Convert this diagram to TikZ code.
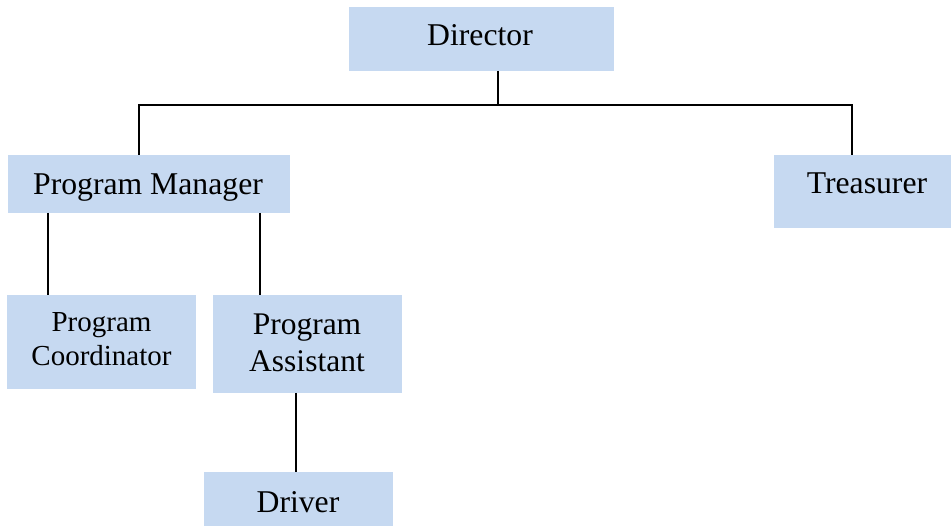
\documentclass[tikz,border=0pt]{standalone}
\usepackage{fontspec}
\setmainfont{Liberation Serif}
\definecolor{boxblue}{HTML}{C6D9F1}
\begin{document}
\begin{tikzpicture}[x=1pt,y=-1pt,
  box/.style={fill=boxblue, draw=none, inner sep=0pt, outer sep=0pt},
  lbl/.style={inner sep=0pt, outer sep=0pt, font=\fontsize{31.7}{36}\selectfont},
  conn/.style={line width=1.3pt, black}]
\useasboundingbox (0,0) rectangle (951,526);
% boxes
\node[box, minimum width=265pt, minimum height=64pt] (dir) at (481.5,39) {};
\node[box, minimum width=282pt, minimum height=58pt] (pm) at (149,184) {};
\node[box, minimum width=177pt, minimum height=73pt] (tr) at (862.5,191.5) {};
\node[box, minimum width=189pt, minimum height=94pt] (pc) at (101.5,342) {};
\node[box, minimum width=189pt, minimum height=98pt] (pa) at (307.5,344) {};
\node[box, minimum width=189pt, minimum height=54pt] (dr) at (298.5,499) {};
% texts
\node[lbl, anchor=base] (dirt) at (480,46) {Director};
\node[lbl, anchor=base] (pmt) at (148,195) {Program Manager};
\node[lbl, anchor=base] (trt) at (867,194) {Treasurer};
\node[lbl, align=center, font=\fontsize{29}{34}\selectfont] (pct) at (101.5,339.5) {Program\\Coordinator};
\node[lbl, align=center, font=\fontsize{31.5}{37}\selectfont] (pat) at (307,343) {Program\\Assistant};
\node[lbl, anchor=base] (drt) at (298,512) {Driver};
% connectors
\coordinate (j) at (498,105);
\coordinate (jl) at (139,105);
\coordinate (jr) at (852,105);
\draw[conn] (dir.south -| j) -- (j);
\draw[conn] (pm.north -| jl) -- (jl) -- (jr) -- (tr.north -| jr);
\draw[conn] ([xshift=40pt]pm.south west) -- ([xshift=40pt]pm.south west |- pc.north);
\draw[conn] ([xshift=252pt]pm.south west) -- ([xshift=252pt]pm.south west |- pa.north);
\draw[conn] ([xshift=83pt]pa.south west) -- ([xshift=83pt]pa.south west |- dr.north);
\end{tikzpicture}
\end{document}
